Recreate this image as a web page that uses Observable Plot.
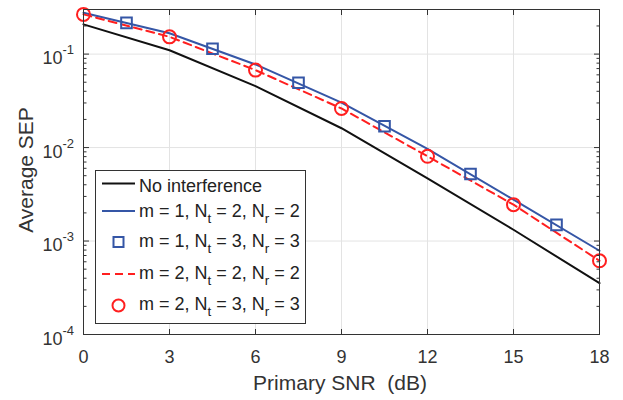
<!DOCTYPE html>
<html>
<head>
<meta charset="utf-8">
<script src="https://cdn.jsdelivr.net/npm/d3@7"></script>
<script src="https://cdn.jsdelivr.net/npm/@observablehq/plot@0.6"></script>
<style>
  html, body { margin: 0; padding: 0; background: white; }
  svg text { white-space: pre; }
</style>
</head>
<body>
<div id="chart"></div>
<script>
// ---- data ----
const snr = [0, 3, 6, 9, 12, 15, 18];
const noInterference = [0.208, 0.110, 0.0454, 0.0161, 0.00469, 0.00132, 0.000354];
const m1Nt2Nr2 = [0.277, 0.167, 0.0775, 0.0302, 0.00966, 0.00277, 0.000787];
const snrSquares = [1.5, 4.5, 7.5, 10.5, 13.5, 16.5];
const m1Nt3Nr3 = [0.216, 0.114, 0.0493, 0.0169, 0.00521, 0.00149];
const m2Nt2Nr2 = [0.266, 0.153, 0.0674, 0.0262, 0.00807, 0.00245, 0.000615];
const m2Nt3Nr3 = [0.266, 0.153, 0.0674, 0.0262, 0.00807, 0.00245, 0.000615];

const xTicks = [0, 3, 6, 9, 12, 15, 18];
const yTicks = [1e-4, 1e-3, 1e-2, 1e-1];
const yExponents = ["-4", "-3", "-2", "-1"];
const legendLabels = [
  "No interference",
  "m = 1, N_t = 2, N_r = 2",
  "m = 1, N_t = 3, N_r = 3",
  "m = 2, N_t = 2, N_r = 2",
  "m = 2, N_t = 3, N_r = 3"
];
const xLabel = "Primary SNR  (dB)";
const yLabel = "Average SEP";

// ---- styling ----
const FONT = "'Liberation Sans', Arial, Helvetica, sans-serif";
const BLACK = "#111111", BLUE = "#3556a6", RED = "#ff1f1f";
const AXIS = "#333333", GRID = "#e3e3e3";

const lineData = (xs, ys) => xs.map((x, i) => ({x, y: ys[i]}));
const black = lineData(snr, noInterference);
const blue = lineData(snr, m1Nt2Nr2);
const squares = lineData(snrSquares, m1Nt3Nr3);
const red = lineData(snr, m2Nt2Nr2);
const circles = lineData(snr, m2Nt3Nr3);

// minor log ticks
const minorTicks = [];
for (const d of [1e-4, 1e-3, 1e-2, 1e-1]) for (let k = 2; k <= 9; k++) if (k * d < 0.3) minorTicks.push(k * d);

const tickShape = {draw(context, l) { context.moveTo(0, 0); context.lineTo(0, -l); }};
const tickOpts = {length: 5.5, anchor: "start", shape: tickShape, stroke: AXIS, strokeWidth: 1, strokeLinecap: "butt"};
const minorOpts = {...tickOpts, length: 3};

const chart = Plot.plot({
  width: 623,
  height: 400,
  marginTop: 9,
  marginRight: 24,
  marginBottom: 66,
  marginLeft: 83,
  style: {fontFamily: FONT, fontSize: "18px", color: AXIS, background: "white", overflow: "visible"},
  x: {domain: [0, 18], axis: null},
  y: {type: "log", domain: [1e-4, 0.3], axis: null},
  marks: [
    Plot.ruleX(xTicks, {stroke: GRID, strokeWidth: 1}),
    Plot.ruleY(yTicks, {stroke: GRID, strokeWidth: 1}),
    Plot.line(black, {x: "x", y: "y", stroke: BLACK, strokeWidth: 2}),
    Plot.line(blue, {x: "x", y: "y", stroke: BLUE, strokeWidth: 2}),
    Plot.line(red, {x: "x", y: "y", stroke: RED, strokeWidth: 2, strokeDasharray: "8,5"}),
    Plot.dot(squares, {x: "x", y: "y", symbol: "square", r: 6, stroke: BLUE, strokeWidth: 2, fill: "none"}),
    Plot.dot(circles, {x: "x", y: "y", symbol: "circle", r: 6.5, stroke: RED, strokeWidth: 2, fill: "none"}),
    // inward ticks on all four sides
    Plot.vector(xTicks, {x: d => d, frameAnchor: "bottom", rotate: 0, ...tickOpts}),
    Plot.vector(xTicks, {x: d => d, frameAnchor: "top", rotate: 180, ...tickOpts}),
    Plot.vector(yTicks, {y: d => d, frameAnchor: "left", rotate: 90, ...tickOpts}),
    Plot.vector(yTicks, {y: d => d, frameAnchor: "right", rotate: -90, ...tickOpts}),
    Plot.vector(minorTicks, {y: d => d, frameAnchor: "left", rotate: 90, ...minorOpts}),
    Plot.vector(minorTicks, {y: d => d, frameAnchor: "right", rotate: -90, ...minorOpts}),
    Plot.frame({stroke: AXIS, strokeWidth: 1}),
    // tick labels
    Plot.text(xTicks, {x: d => d, text: d => String(d), frameAnchor: "bottom", dy: 22.5, lineAnchor: "middle", fill: AXIS, fontSize: 18}),
    Plot.text(yTicks, {y: d => d, text: () => "10", frameAnchor: "left", textAnchor: "end", dx: -21, dy: 4.5, lineAnchor: "middle", fill: AXIS, fontSize: 18}),
    Plot.text(yTicks, {y: d => d, text: (d, i) => yExponents[i], frameAnchor: "left", textAnchor: "start", dx: -21, dy: -4, lineAnchor: "middle", fill: AXIS, fontSize: 13}),
    // x axis label
    Plot.text([xLabel], {frameAnchor: "bottom", dx: -1.5, dy: 48.5, lineAnchor: "middle", fill: AXIS, fontSize: 21})
  ]
});

document.getElementById("chart").appendChild(chart);
const svg = d3.select(chart);

// ---- y axis label ----
svg.append("text")
  .attr("transform", "translate(33,170) rotate(-90)")
  .attr("text-anchor", "middle")
  .attr("font-family", FONT).attr("font-size", 21).attr("fill", AXIS)
  .text(yLabel);

// ---- legend (inside the axes, lower-left) ----
const lg = svg.append("g")
  .attr("font-family", FONT).attr("font-size", 18).attr("fill", "#222")
  .attr("text-anchor", "start");
lg.append("rect").attr("x", 95.5).attr("y", 170.5).attr("width", 210).attr("height", 153)
  .attr("fill", "white").attr("stroke", AXIS).attr("stroke-width", 1);

const rowsY = [183.5, 211, 242, 274, 305.5];
const baseY = [192, 217, 247, 279, 310];
const kinds = [
  {type: "line", color: BLACK},
  {type: "line", color: BLUE},
  {type: "square", color: BLUE},
  {type: "dash", color: RED},
  {type: "circle", color: RED}
];
legendLabels.forEach((label, i) => {
  const k = kinds[i], cy = rowsY[i];
  if (k.type === "line" || k.type === "dash") {
    lg.append("line").attr("x1", 102).attr("x2", 135).attr("y1", cy).attr("y2", cy)
      .attr("stroke", k.color).attr("stroke-width", 2)
      .attr("stroke-dasharray", k.type === "dash" ? "8,5" : null);
  } else if (k.type === "square") {
    lg.append("rect").attr("x", 118.5 - 5).attr("y", cy - 5).attr("width", 10).attr("height", 10)
      .attr("fill", "none").attr("stroke", k.color).attr("stroke-width", 2);
  } else {
    lg.append("circle").attr("cx", 118.5).attr("cy", cy).attr("r", 6)
      .attr("fill", "none").attr("stroke", k.color).attr("stroke-width", 2);
  }
  const t = lg.append("text").attr("x", 139).attr("y", baseY[i]).attr("text-anchor", "start");
  const parts = label.split(/_(\w)/);
  parts.forEach((p, j) => {
    if (j % 2 === 1) {
      t.append("tspan").attr("dy", 5.5).attr("font-size", 13.5).text(p);
    } else if (p.length) {
      const ts = t.append("tspan").text(p);
      if (j > 0) ts.attr("dy", -5.5);
    }
  });
});
</script>
</body>
</html>
